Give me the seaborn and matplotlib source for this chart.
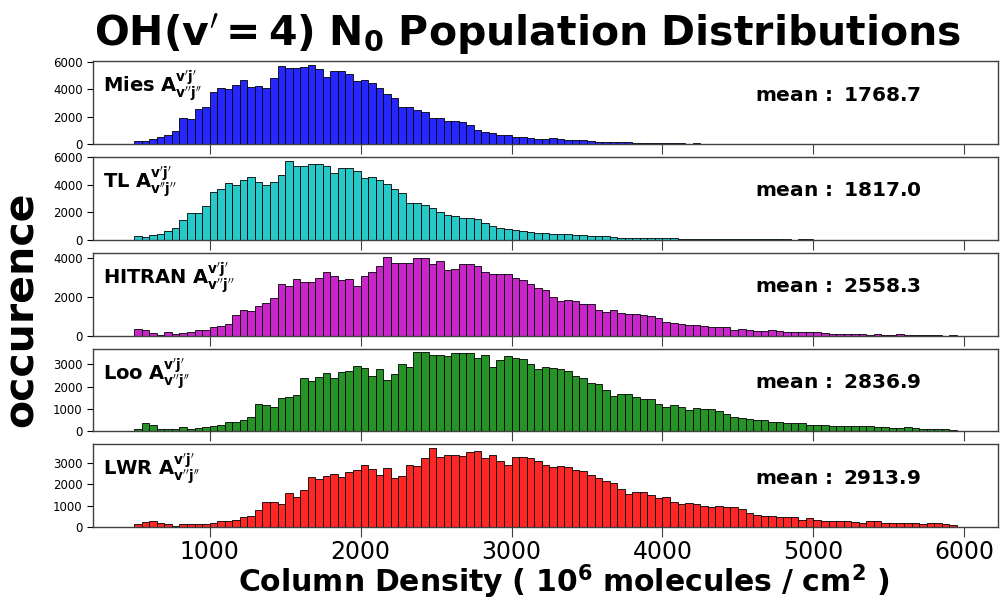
import numpy as np
import pandas as pd
import matplotlib
matplotlib.use("Agg")
import matplotlib.pyplot as plt
import seaborn as sns

# ---- data ----
bin_start = 500
bin_width = 50
n_bins = 109

mies = [220, 220, 385, 506, 650, 916, 1856, 1808, 2579, 2723,
        3760, 4049, 4000, 4314, 4700, 4170, 4218, 4097, 4820, 5688,
        5519, 5519, 5640, 5760, 5471, 4916, 5350, 5350, 5085, 4603,
        4675, 4434, 4049, 3663, 3326, 2675, 2723, 2506, 2314, 1880,
        1880, 1639, 1639, 1580, 1410, 990, 843, 771, 627, 627,
        530, 506, 458, 385, 385, 434, 337, 289, 265, 265,
        217, 169, 169, 120, 120, 120, 72, 50, 50, 50,
        50, 50, 40, 0, 60, 0, 0, 0, 0, 0,
        0, 0, 0, 0, 0, 0, 0, 0, 0, 0,
        0, 0, 0, 0, 0, 0, 0, 0, 0, 0,
        0, 0, 0, 0, 0, 0, 0, 0, 0]

tl = [264, 192, 336, 432, 600, 816, 1416, 1920, 1944, 2424,
      3456, 3648, 4080, 3960, 4344, 4512, 4152, 3984, 4176, 4680,
      5712, 5328, 5328, 5520, 5520, 5328, 4800, 5160, 5232, 4944,
      4440, 4512, 4344, 4008, 3696, 3360, 2640, 2640, 2544, 2280,
      1992, 1776, 1704, 1560, 1550, 1488, 1176, 960, 816, 768,
      672, 624, 576, 480, 480, 408, 408, 384, 312, 312,
      264, 240, 240, 192, 144, 110, 110, 110, 110, 110,
      96, 96, 48, 48, 48, 48, 48, 48, 48, 48,
      48, 48, 48, 48, 48, 48, 30, 0, 40, 40,
      0, 0, 0, 0, 0, 0, 0, 0, 0, 0,
      0, 0, 0, 0, 0, 0, 0, 0, 0]

hitran = [360, 275, 120, 34, 155, 103, 137, 172, 275, 275,
          412, 481, 601, 1065, 1288, 1236, 1528, 1683, 1923, 2661,
          2541, 2885, 2730, 2764, 2970, 3279, 3039, 2867, 2919, 2541,
          3073, 3279, 3589, 4052, 3743, 3743, 3743, 3966, 3966, 3657,
          3829, 3382, 3434, 3700, 3657, 3554, 3279, 3159, 3159, 3159,
          2970, 2867, 2661, 2438, 2352, 1992, 1751, 1837, 1751, 1631,
          1597, 1322, 1219, 1288, 1133, 1116, 1099, 1047, 996, 910,
          670, 635, 584, 515, 515, 481, 412, 446, 412, 292,
          326, 292, 240, 240, 275, 240, 206, 206, 155, 155,
          155, 137, 103, 86, 86, 86, 52, 34, 52, 34,
          34, 52, 25, 25, 25, 25, 17, 0, 20]

loo = [119, 356, 282, 119, 119, 119, 193, 104, 163, 193,
       252, 282, 401, 431, 505, 639, 1218, 1173, 1099, 1500,
       1530, 1648, 2376, 2257, 2450, 2599, 2376, 2643, 2688, 2925,
       2822, 2480, 2777, 2287, 2554, 3000, 2896, 3534, 3534, 3416,
       3416, 3371, 3519, 3519, 3490, 3297, 3416, 2881, 3178, 3356,
       3297, 3252, 3000, 2777, 2881, 2822, 2777, 2688, 2480, 2376,
       2183, 2109, 1842, 1574, 1663, 1663, 1559, 1440, 1440, 1203,
       1099, 1188, 1084, 950, 1025, 995, 995, 921, 772, 639,
       594, 564, 490, 520, 416, 401, 371, 356, 356, 282,
       282, 282, 252, 223, 252, 252, 223, 223, 193, 193,
       148, 148, 193, 148, 119, 119, 104, 104, 59]

lwr = [124, 216, 263, 201, 124, 62, 155, 124, 124, 124,
       186, 263, 263, 325, 448, 510, 773, 1175, 1144, 1051,
       1592, 1391, 1747, 2334, 2242, 2396, 2489, 2334, 2551, 2659,
       2891, 2721, 2443, 2752, 2304, 2381, 2891, 2860, 3216, 3664,
       3247, 3339, 3339, 3316, 3494, 3525, 3216, 3370, 3077, 2906,
       3247, 3278, 3216, 3077, 2906, 2798, 2860, 2798, 2659, 2628,
       2443, 2288, 2164, 2056, 1778, 1561, 1623, 1654, 1500, 1376,
       1422, 1190, 1051, 1129, 1067, 959, 928, 989, 928, 928,
       819, 634, 572, 510, 495, 479, 448, 448, 325, 402,
       325, 294, 263, 263, 263, 216, 186, 263, 263, 201,
       201, 170, 170, 170, 139, 170, 170, 139, 93]

names = ["Mies", "TL", "HITRAN", "Loo", "LWR"]
series = [mies, tl, hitran, loo, lwr]
means = ["1768.7", "1817.0", "2558.3", "2836.9", "2913.9"]
colors = ["b", "c", "m", "g", "r"]
yticks = [[0, 2000, 4000, 6000], [0, 2000, 4000, 6000], [0, 2000, 4000],
          [0, 1000, 2000, 3000], [0, 1000, 2000, 3000]]
xticks = [1000, 2000, 3000, 4000, 5000, 6000]

title = r"$\mathbf{OH(v^{\prime} = 4)\ N_0\ Population\ Distributions}$"
xlabel = r"$\mathbf{Column\ Density\ (\ 10^6\ molecules\ /\ cm^2\ )}$"
ylabel = "occurence"

# ---- plot ----
sns.set_style("white")
plt.rcParams["font.family"] = ["DejaVu Sans"]
plt.rcParams["mathtext.fontset"] = "dejavusans"
plt.rcParams["text.color"] = "black"
plt.rcParams["axes.labelcolor"] = "black"
plt.rcParams["xtick.color"] = "black"
plt.rcParams["ytick.color"] = "black"

edges = [float(bin_start + bin_width * k) for k in range(n_bins + 1)]
centers = [(edges[k] + edges[k + 1]) / 2 for k in range(n_bins)]

fig, axes = plt.subplots(5, 1, figsize=(10, 5.99), dpi=100, sharex=True)
fig.subplots_adjust(left=0.093, right=0.998, top=0.898, bottom=0.12, hspace=0.157)

for ax, name, vals, mean, col, yt in zip(axes, names, series, means, colors, yticks):
    df = pd.DataFrame({"x": centers, "w": vals})
    sns.histplot(data=df, x="x", weights="w", bins=edges, color=col, alpha=0.85,
                 edgecolor="black", linewidth=0.6, ax=ax)
    ax.set_xlabel("")
    ax.set_ylabel("")
    ax.set_yticks(yt)
    ax.tick_params(axis="y", labelsize=8.5, direction="out", length=4, width=0.8,
                   left=True, colors="black")
    ax.tick_params(axis="x", direction="out", length=7, width=0.8, bottom=True,
                   colors="0.25", labelsize=17, labelcolor="black", pad=2)
    for s in ax.spines.values():
        s.set_color("0.25")
        s.set_linewidth(1.0)
    ax.text(0.011, 0.7, r"$\mathbf{%s\ A^{v'j'}_{v''j''}}$" % name, transform=ax.transAxes,
            fontsize=14, va="center", ha="left", color="black")
    ax.text(0.731, 0.59, r"$\mathbf{mean\,:\ %s}$" % mean, transform=ax.transAxes,
            fontsize=14.5, va="center", ha="left", color="black")

axes[-1].set_xticks(xticks)
axes[-1].set_xticklabels([str(t) for t in xticks])

fig.text(0.528, 0.943, title, fontsize=29.5, ha="center", va="center", color="black")
fig.text(0.564, 0.029, xlabel, fontsize=21.5, ha="center", va="center", color="black")
fig.text(0.022, 0.483, ylabel, fontsize=29.5, fontweight="bold", rotation=90,
         ha="center", va="center", color="black")

fig.savefig("out.png", dpi=100)
